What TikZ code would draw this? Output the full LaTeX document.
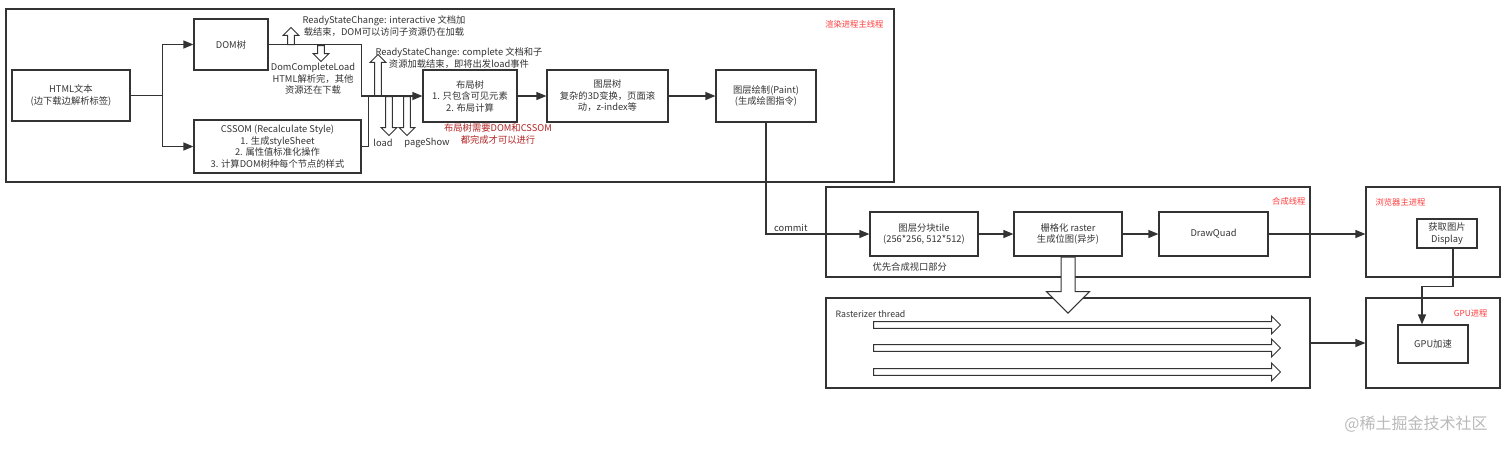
\documentclass[tikz,border=0pt]{standalone}
\usepackage{fontspec}
\setmainfont{Noto Sans CJK SC}
\usetikzlibrary{shapes.arrows,positioning,calc,arrows.meta}
\definecolor{linegray}{HTML}{333333}
\definecolor{labelred}{HTML}{FF3B3B}
\definecolor{notered}{HTML}{B22222}
\tikzset{ARROW/.style={line width=1.2pt, draw=linegray, -{Triangle[length=10pt,width=8pt]}}}
\tikzset{LINE/.style={line width=1.2pt, draw=linegray}}
\tikzset{BOX/.style={rectangle, draw=linegray, line width=1.2pt, align=center, inner sep=0pt, text=linegray}}
\tikzset{FRAME/.style={rectangle, draw=linegray, line width=1.2pt, inner sep=0pt}}
\tikzset{HOLLOW/.style={single arrow, draw=linegray, line width=1pt, fill=white, inner sep=2.8pt, minimum width=0pt, single arrow head extend=4.5pt, anchor=tail}}
\tikzset{TXT/.style={align=center, text=linegray, inner sep=0pt}}
\tikzset{TAG/.style={text=labelred, inner sep=0pt, font=\fontsize{8.3}{10}\selectfont}}

\begin{document}
\begin{tikzpicture}[x=1pt, y=-1pt, font=\fontsize{9.3}{11.5}\selectfont]
    \useasboundingbox (0,0) rectangle (1512,450);

    % frames
    \node[FRAME, minimum width=888pt, minimum height=173pt] (n_main) at (450,95.5) {};
    \node[TAG, anchor=north east] at ($(n_main.north east)+(-11,12)$) {渲染进程主线程};
    \node[FRAME, minimum width=484pt, minimum height=90pt] (n_comp) at (1068,232) {};
    \node[TAG, anchor=north east] at ($(n_comp.north east)+(-5,11)$) {合成线程};
    \node[FRAME, minimum width=484pt, minimum height=90pt] (n_rthread) at (1068,343) {};
    \node[TXT, anchor=west, font=\fontsize{8.8}{10}\selectfont] at ($(n_rthread.north west)+(10,17)$) {Rasterizer thread};
    \node[FRAME, minimum width=134pt, minimum height=90pt] (n_browser) at (1433,232) {};
    \node[TAG, anchor=north west] at ($(n_browser.north west)+(10,12)$) {浏览器主进程};
    \node[FRAME, minimum width=134pt, minimum height=90pt] (n_gpuproc) at (1433,343) {};
    \node[TAG, anchor=north east] at ($(n_gpuproc.north east)+(-13,12)$) {GPU进程};

    % main thread
    \node[BOX, minimum width=118pt, minimum height=51pt] (n_html) at (71,95.5) {HTML文本\\(边下载边解析标签)};
    \node[BOX, minimum width=74pt, minimum height=51pt] (n_dom) at (231,44.5) {DOM树};
    \node[BOX, minimum width=167pt, minimum height=53pt] (n_cssom) at (277.5,146.5) {CSSOM (Recalculate Style)\\1. 生成styleSheet\\2. 属性值标准化操作\\3. 计算DOM树种每个节点的样式};
    \node[BOX, minimum width=94pt, minimum height=52pt] (n_layout) at (470,96) {布局树\\1. 只包含可见元素\\2. 布局计算};
    \node[BOX, minimum width=121pt, minimum height=52pt] (n_layer) at (607.5,96) {图层树\\复杂的3D变换，页面滚\\动，z-index等};
    \node[BOX, minimum width=100pt, minimum height=52pt] (n_paint) at (766,96) {图层绘制(Paint)\\(生成绘图指令)};

    \coordinate (split) at ($(n_html.east)+(32,0)$);
    \coordinate (join) at ($(n_layout.west)+(-61,0)$);
    \draw[LINE] (n_html.east) -- (split);
    \draw[ARROW] (split) |- (n_dom.west);
    \draw[ARROW] (split) |- (n_cssom.west);
    \draw[ARROW] (n_dom.east) -| (join) -- (n_layout.west);
    \draw[LINE] (n_cssom.east) -| ($(join)+(7,0)$);
    \draw[ARROW] (n_layout.east) -- (n_layer.west);
    \draw[ARROW] (n_layer.east) -- (n_paint.west);

    % ready state events
    \node[HOLLOW, minimum height=17pt, shape border rotate=90] (h_inter) at (291,45) {};
    \node[HOLLOW, minimum height=16pt, shape border rotate=270] (h_domload) at (321,45) {};
    \node[HOLLOW, minimum height=41pt, shape border rotate=90] (h_complete) at (378,96) {};
    \node[HOLLOW, minimum height=39pt, shape border rotate=270] (h_load) at (389,96) {};
    \node[HOLLOW, minimum height=39pt, shape border rotate=270] (h_show) at (407,96) {};

    \node[TXT] at (384,26) {ReadyStateChange: interactive 文档加\\载结束，DOM可以访问子资源仍在加载};
    \node[TXT] at (313,79) {DomCompleteLoad\\HTML解析完，其他\\资源还在下载};
    \node[TXT] at (459,58) {ReadyStateChange: complete 文档和子\\资源加载结束，即将出发load事件};
    \node[TXT] at (383,143) {load};
    \node[TXT] at (427,143) {pageShow};
    \node[TXT, text=notered] at (498,134) {布局树需要DOM和CSSOM\\都完成才可以进行};

    % compositor thread
    \node[BOX, minimum width=108pt, minimum height=44pt] (n_tile) at (924,234) {图层分块tile\\(256*256, 512*512)};
    \node[BOX, minimum width=108pt, minimum height=44pt] (n_raster) at (1068,234) {栅格化 raster\\生成位图(异步)};
    \node[BOX, minimum width=109pt, minimum height=44pt] (n_quad) at (1213.5,234) {DrawQuad};
    \node[TXT, anchor=west] at ($(n_tile.south west)+(3,10)$) {优先合成视口部分};

    \draw[ARROW] (n_paint.south) |- (n_tile.west) node[pos=0.62, above=2pt, TXT]{commit};
    \draw[ARROW] (n_tile.east) -- (n_raster.west);
    \draw[ARROW] (n_raster.east) -- (n_quad.west);
    \draw[ARROW] (n_quad.east) -- (n_quad.east -| n_browser.west);

    % rasterizer
    \node[HOLLOW, minimum height=56pt, shape border rotate=270, inner sep=6.5pt, single arrow head extend=14.5pt] (h_raster) at (n_raster.south) {};
    \foreach \ty in {325,348,372}
        \node[HOLLOW, minimum height=407pt, single arrow head extend=5.5pt] at (873,\ty) {};
    \draw[ARROW] (n_rthread.east) -- (n_gpuproc.west);

    % browser and gpu
    \node[BOX, minimum width=60pt, minimum height=29pt] (n_display) at (1447,233.5) {获取图片\\Display};
    \node[BOX, minimum width=70pt, minimum height=38pt] (n_gpu) at (1433,344) {GPU加速};
    \draw[ARROW] ($(n_display.south)+(6,0)$) -- ++(0,38) -| ($(n_gpu.north)+(-11,0)$);

    \node[TXT, text=gray!55, font=\fontsize{16}{18}\selectfont] at (1416,424) {@稀土掘金技术社区};
\end{tikzpicture}
\end{document}
